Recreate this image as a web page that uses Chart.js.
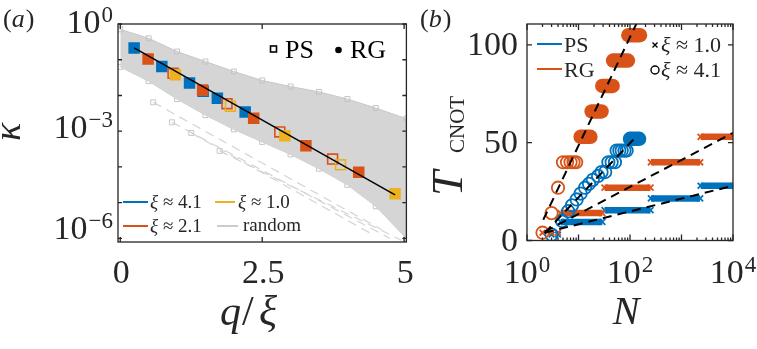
<!DOCTYPE html>
<html lang="en">
<head>
<meta charset="UTF-8">
<title>kappa vs q/xi and T_CNOT vs N</title>
<script src="https://cdn.jsdelivr.net/npm/chart.js@4.4.1/dist/chart.umd.min.js"></script>
<style>
  body { margin: 0; background: #fff; }
  #wrap { position: relative; width: 757px; height: 349px; }
  canvas { position: absolute; top: 0; }
</style>
</head>
<body>
<div id="wrap">
  <canvas id="chartA" width="415" height="349" style="left:0"></canvas>
  <canvas id="chartB" width="342" height="349" style="left:415px"></canvas>
</div>
<script>
// ---- panel (a): values are log10(kappa) ----
const bandQ    = [0, 0.5, 1, 1.5, 2, 2.5, 3, 3.5, 4, 4.5, 5.04];
const bandTopK = [-0.15, -0.4, -0.77, -1.05, -1.33, -1.58, -1.75, -1.9, -2.1, -2.35, -2.65];
const bandLowK = [-1.2, -1.6, -2.1, -2.55, -2.95, -3.3, -3.65, -4.05, -4.5, -5.1, -6.0];

const dashStartQ = [0.58, 0.91, 1.25, 1.75];
const dashStartK = [-2.19, -2.75, -3.05, -3.55];
const dashEndQ   = [4.6, 4.75, 4.4, 4.95];
const dashEndK   = [-5.75, -6.0, -5.85, -6.05];

const fitQ = [0.244, 4.84];
const fitK = [-0.67, -4.78];

const blueRgQ = [0.244, 0.732, 1.22, 1.71, 2.20];
const blueRgK = [-0.675, -1.19, -1.65, -2.08, -2.46];
const bluePsQ = [1.46];
const bluePsK = [-1.88];
const orangeRgQ = [0.49, 1.45, 2.35, 3.27, 4.20];
const orangeRgK = [-0.98, -1.85, -2.64, -3.41, -4.15];
const orangePsQ = [0.93, 1.88, 2.81, 3.74];
const orangePsK = [-1.38, -2.23, -3.02, -3.78];
const yellowRgQ = [0.97, 2.90, 4.84];
const yellowRgK = [-1.42, -3.13, -4.75];
const yellowPsQ = [1.94, 3.88];
const yellowPsK = [-2.30, -3.94];

// ---- panel (b) ----
const orangeCircN = [2, 3, 4, 5, 6, 7, 8, 9];
const orangeCircT = [4, 14, 27, 40, 40, 40, 40, 40];
const orangePillStart = [11, 18, 29, 47, 93];
const orangePillEnd   = [17, 28, 46, 91, 156];
const orangePillT     = [53, 66, 79, 92, 105];

const blueCircN = [3, 4.8, 6.3, 7.5, 9.2, 11, 13.4, 16, 19, 24, 28, 33, 38, 44, 51, 55, 62, 69, 78, 86];
const blueCircT = [3, 10, 15, 18, 21, 24, 27, 29, 31, 33, 35, 35, 40, 40, 40, 46, 46, 46, 46, 46];
const bluePillStart = [100];
const bluePillEnd   = [150];
const bluePillT     = [52];

const barStart  = [4.5, 32, 255, 2350];
const barEnd    = [29, 250, 2300, 10000];
const blueBarT  = [9.5, 15.5, 21.5, 28];
const orangeBarT = [14, 27, 40, 53];

const orangeXN = [2, 3, 4];
const orangeXT = [4, 4, 4];
const blueXN = [3, 4];
const blueXT = [3, 3];

const fitLinesN = [[2.07, 134], [2.2, 134], [2.2, 10000], [2.2, 10000]];
const fitLinesT = [[10.6, 111], [3.8, 53.3], [4.5, 55], [4, 28]];

const C_BLUE = '#0072BD', C_ORANGE = '#D95319', C_YELLOW = '#EDB120', C_GRAY = '#cccccc';
const SERIF = '"Liberation Serif", "DejaVu Serif", serif';
const AXIS = '#262626';
const TICK_PX = 34, SUP_PX = 23;

function font(size, italic) {
  return (italic ? 'italic ' : '') + size + 'px ' + SERIF;
}
function pts(xs, ys) {
  return xs.map((x, i) => ({ x: x, y: ys[i] }));
}
function logPts(xs, ks) {
  return xs.map((x, i) => ({ x: x, y: Math.pow(10, ks[i]) }));
}

// draws base^exp, y is baseline of base
function drawPow(ctx, base, exp, x, y, align) {
  ctx.font = font(TICK_PX);
  const wb = ctx.measureText(base).width;
  ctx.font = font(SUP_PX);
  const we = ctx.measureText(exp).width;
  let left = x;
  if (align === 'right') left = x - wb - we - 1;
  if (align === 'center') left = x - (wb + we + 1) / 2;
  ctx.textAlign = 'left';
  ctx.textBaseline = 'alphabetic';
  ctx.font = font(TICK_PX);
  ctx.fillText(base, left, y);
  ctx.font = font(SUP_PX);
  ctx.fillText(exp, left + wb + 1, y - 11);
}

function drawXi(ctx, rest, x, y, size) {
  ctx.textAlign = 'left';
  ctx.textBaseline = 'alphabetic';
  ctx.font = font(size, true);
  ctx.fillText('ξ', x, y);
  const w = ctx.measureText('ξ').width;
  ctx.font = font(size);
  ctx.fillText(rest, x + w, y);
}

function hLine(ctx, x0, x1, y, color, width) {
  ctx.strokeStyle = color;
  ctx.lineWidth = width;
  ctx.beginPath();
  ctx.moveTo(x0, y);
  ctx.lineTo(x1, y);
  ctx.stroke();
}

function drawBoxTicks(ctx, area, xTicks, yTicks) {
  ctx.strokeStyle = AXIS;
  ctx.lineWidth = 1.3;
  ctx.beginPath();
  xTicks.forEach(t => {
    ctx.moveTo(t[0], area.bottom); ctx.lineTo(t[0], area.bottom - t[1]);
    ctx.moveTo(t[0], area.top); ctx.lineTo(t[0], area.top + t[1]);
  });
  yTicks.forEach(t => {
    ctx.moveTo(area.left, t[0]); ctx.lineTo(area.left + t[1], t[0]);
    ctx.moveTo(area.right, t[0]); ctx.lineTo(area.right - t[1], t[0]);
  });
  ctx.stroke();
  ctx.strokeRect(area.left, area.top, area.right - area.left, area.bottom - area.top);
}

// ---------------- panel (a) ----------------
function squares(q, k, color, filled, order) {
  return {
    data: logPts(q, k), pointStyle: 'rect', pointRadius: 7, pointHoverRadius: 7,
    borderColor: color, borderWidth: 1.6,
    backgroundColor: filled ? color : 'rgba(0,0,0,0)', order: order
  };
}

const datasetsA = [];
datasetsA.push({
  data: logPts(fitQ, fitK), showLine: true, borderColor: '#000', borderWidth: 1.5,
  pointRadius: 0, order: 1
});
datasetsA.push(squares(yellowRgQ, yellowRgK, C_YELLOW, true, 2));
datasetsA.push(squares(yellowPsQ, yellowPsK, C_YELLOW, false, 3));
datasetsA.push(squares(orangeRgQ, orangeRgK, C_ORANGE, true, 4));
datasetsA.push(squares(orangePsQ, orangePsK, C_ORANGE, false, 5));
datasetsA.push(squares(blueRgQ, blueRgK, C_BLUE, true, 6));
datasetsA.push(squares(bluePsQ, bluePsK, C_BLUE, false, 7));
dashStartQ.forEach((q, i) => {
  datasetsA.push({
    data: logPts([q, dashEndQ[i]], [dashStartK[i], dashEndK[i]]),
    showLine: true, borderColor: '#d4d4d4', borderWidth: 1.2, borderDash: [9, 6],
    pointStyle: 'rect', pointRadius: [3.5, 0], pointBorderColor: '#c8c8c8',
    pointBackgroundColor: 'rgba(0,0,0,0)', pointBorderWidth: 1, order: 8
  });
});
datasetsA.push({
  data: logPts(bandQ, bandTopK), showLine: true, fill: '+1',
  borderColor: '#c8c8c8', borderWidth: 1, backgroundColor: '#d5d5d5',
  pointStyle: 'rect', pointRadius: 3.5, pointBorderColor: '#c4c4c4',
  pointBackgroundColor: 'rgba(0,0,0,0)', pointBorderWidth: 1, order: 9
});
datasetsA.push({
  data: logPts(bandQ, bandLowK), showLine: true,
  borderColor: '#c8c8c8', borderWidth: 1,
  pointStyle: 'rect', pointRadius: 3.5, pointBorderColor: '#c4c4c4',
  pointBackgroundColor: 'rgba(0,0,0,0)', pointBorderWidth: 1, order: 10
});

const decorA = {
  id: 'decorA',
  afterDraw(chart) {
    const ctx = chart.ctx, area = chart.chartArea;
    const xs = chart.scales.x, ys = chart.scales.y;
    ctx.save();
    const xT = [0, 2.5, 5].map(v => [xs.getPixelForValue(v), 5]);
    const yT = [0, -1, -2, -3, -4, -5, -6].map(e => [ys.getPixelForValue(Math.pow(10, e)), 4]);
    drawBoxTicks(ctx, area, xT, yT);

    ctx.fillStyle = '#262626';
    // [exponent, label, baseline offset from tick]
    [[0, '0', 9], [-3, '−3', 6.5], [-6, '−6', 1]].forEach(p => {
      drawPow(ctx, '10', p[1], 113, ys.getPixelForValue(Math.pow(10, p[0])) + p[2], 'right');
    });
    ctx.font = font(TICK_PX);
    ctx.textAlign = 'center';
    ctx.textBaseline = 'alphabetic';
    [[0, '0'], [2.5, '2.5'], [5, '5']].forEach(p => {
      ctx.fillText(p[1], xs.getPixelForValue(p[0]) + 1, 283);
    });

    // axis titles: q / xi
    ctx.textAlign = 'left';
    ctx.font = font(42, true);
    ctx.fillText('q', 220, 325);
    ctx.font = font(42);
    ctx.fillText('/', 242, 325);
    ctx.font = font(42, true);
    ctx.fillText('ξ', 259, 325);
    ctx.save();
    ctx.translate(20, 132);
    ctx.rotate(-Math.PI / 2);
    ctx.font = font(38, true);
    ctx.textAlign = 'center';
    ctx.fillText('κ', 0, 0);
    ctx.restore();

    // panel label
    ctx.textAlign = 'left';
    ctx.font = font(26);
    ctx.fillText('(', 3, 27);
    let w = ctx.measureText('(').width;
    ctx.font = font(26, true);
    ctx.fillText('a', 3 + w, 27);
    w += ctx.measureText('a').width;
    ctx.font = font(26);
    ctx.fillText(')', 4 + w, 27);

    // top legend
    ctx.strokeStyle = '#000';
    ctx.lineWidth = 1.6;
    ctx.strokeRect(270.5, 46, 6, 6);
    ctx.fillStyle = '#000';
    ctx.font = font(26);
    ctx.fillText('PS', 285, 58);
    ctx.beginPath();
    ctx.arc(338.5, 50, 3.3, 0, Math.PI * 2);
    ctx.fill();
    ctx.fillText('RG', 350, 58);

    // bottom legend
    ctx.fillStyle = '#262626';
    hLine(ctx, 123, 148, 202, C_BLUE, 2);
    drawXi(ctx, ' ≈ 4.1', 150, 208, 19);
    hLine(ctx, 215, 235, 202, C_YELLOW, 2);
    drawXi(ctx, ' ≈ 1.0', 238, 208, 19);
    hLine(ctx, 123, 148, 226, C_ORANGE, 2);
    drawXi(ctx, ' ≈ 2.1', 150, 232, 19);
    hLine(ctx, 217, 238, 226, C_GRAY, 2);
    ctx.fillStyle = '#262626';
    ctx.font = font(19);
    ctx.fillText('random', 243, 231);
    ctx.restore();
  }
};

new Chart(document.getElementById('chartA'), {
  type: 'scatter',
  data: { datasets: datasetsA },
  options: {
    responsive: false, animation: false, devicePixelRatio: 1,
    layout: { padding: { left: 118, right: 7, top: 24, bottom: 107 } },
    plugins: { legend: { display: false }, tooltip: { enabled: false } },
    scales: {
      x: { type: 'linear', min: -0.04, max: 5.04, display: false },
      y: { type: 'logarithmic', min: Math.pow(10, -6.1), max: 1, display: false }
    }
  },
  plugins: [decorA]
});

// ---------------- panel (b) ----------------
const datasetsB = [];
fitLinesN.forEach((n, i) => {
  datasetsB.push({
    data: pts(n, fitLinesT[i]), showLine: true, borderColor: '#000', borderWidth: 2,
    borderDash: [9, 6], pointRadius: 0, order: 1
  });
});
datasetsB.push({
  data: pts(orangeCircN, orangeCircT), pointStyle: 'circle', pointRadius: 6.2,
  borderColor: C_ORANGE, borderWidth: 1.8, backgroundColor: 'rgba(0,0,0,0)', order: 3
});
datasetsB.push({
  data: pts(blueCircN, blueCircT), pointStyle: 'circle', pointRadius: 6.2,
  borderColor: C_BLUE, borderWidth: 1.8, backgroundColor: 'rgba(0,0,0,0)', order: 3
});
function pills(start, end, t, color) {
  start.forEach((s, i) => {
    datasetsB.push({
      data: pts([s, end[i]], [t[i], t[i]]), showLine: true, borderColor: color,
      borderWidth: 14.5, borderCapStyle: 'round', pointRadius: 0, order: 4
    });
  });
}
pills(orangePillStart, orangePillEnd, orangePillT, C_ORANGE);
pills(bluePillStart, bluePillEnd, bluePillT, C_BLUE);
function bars(t, color) {
  barStart.forEach((s, i) => {
    datasetsB.push({
      data: pts([s, barEnd[i]], [t[i], t[i]]), showLine: true, borderColor: color,
      borderWidth: 6.5, pointStyle: 'crossRot', pointRadius: 4.2,
      pointBorderColor: color, pointBorderWidth: 1.8, order: 5
    });
  });
}
bars(orangeBarT, C_ORANGE);
bars(blueBarT, C_BLUE);
datasetsB.push({
  data: pts(orangeXN, orangeXT), pointStyle: 'crossRot', pointRadius: 4,
  borderColor: C_ORANGE, borderWidth: 1.8, order: 5
});
datasetsB.push({
  data: pts(blueXN, blueXT), pointStyle: 'crossRot', pointRadius: 4,
  borderColor: C_BLUE, borderWidth: 1.8, order: 6
});

const decorB = {
  id: 'decorB',
  afterDraw(chart) {
    const ctx = chart.ctx, area = chart.chartArea;
    const xs = chart.scales.x, ys = chart.scales.y;
    ctx.save();
    const xT = [];
    [1, 10, 100, 1000].forEach(d => {
      xT.push([xs.getPixelForValue(d), 6]);
      for (let m = 2; m <= 9; m++) xT.push([xs.getPixelForValue(d * m), 3]);
    });
    xT.push([xs.getPixelForValue(10000), 6]);
    const yT = [0, 50, 100].map(v => [ys.getPixelForValue(v), 5]);
    drawBoxTicks(ctx, area, xT, yT);

    ctx.fillStyle = '#262626';
    [[1, '0'], [100, '2'], [10000, '4']].forEach(p => {
      drawPow(ctx, '10', p[1], xs.getPixelForValue(p[0]), 283, 'center');
    });
    ctx.font = font(TICK_PX);
    ctx.textAlign = 'right';
    ctx.textBaseline = 'alphabetic';
    [0, 50, 100].forEach(v => ctx.fillText(String(v), 103, ys.getPixelForValue(v) + 10));

    // axis titles
    ctx.textAlign = 'center';
    ctx.font = font(40, true);
    ctx.fillText('N', 211, 324);
    ctx.save();
    ctx.translate(47, 196);
    ctx.rotate(-Math.PI / 2);
    ctx.textAlign = 'left';
    ctx.font = font(45, true);
    ctx.fillText('T', 0, 0);
    ctx.font = font(21);
    ctx.fillText('CNOT', 43, 2);
    ctx.restore();

    // panel label
    ctx.textAlign = 'left';
    ctx.font = font(26);
    ctx.fillText('(', 5, 27);
    let w = ctx.measureText('(').width;
    ctx.font = font(26, true);
    ctx.fillText('b', 5 + w, 27);
    w += ctx.measureText('b').width;
    ctx.font = font(26);
    ctx.fillText(')', 6 + w, 27);

    // legend
    hLine(ctx, 122, 147, 44, C_BLUE, 2);
    hLine(ctx, 122, 147, 69, C_ORANGE, 2);
    ctx.fillStyle = '#262626';
    ctx.font = font(22);
    ctx.fillText('PS', 149, 52);
    ctx.fillText('RG', 149, 77);
    ctx.strokeStyle = '#000';
    ctx.lineWidth = 1.4;
    ctx.beginPath();
    ctx.moveTo(237.5, 42.5); ctx.lineTo(242.5, 47.5);
    ctx.moveTo(242.5, 42.5); ctx.lineTo(237.5, 47.5);
    ctx.stroke();
    ctx.beginPath();
    ctx.arc(240, 70, 4, 0, Math.PI * 2);
    ctx.stroke();
    drawXi(ctx, ' ≈ 1.0', 246, 52, 22);
    drawXi(ctx, ' ≈ 4.1', 246, 77, 22);
    ctx.restore();
  }
};

new Chart(document.getElementById('chartB'), {
  type: 'scatter',
  data: { datasets: datasetsB },
  options: {
    responsive: false, animation: false, devicePixelRatio: 1,
    layout: { padding: { left: 112, right: 24, top: 24, bottom: 108.5 } },
    plugins: { legend: { display: false }, tooltip: { enabled: false } },
    scales: {
      x: { type: 'logarithmic', min: 1, max: 10000, display: false },
      y: { type: 'linear', min: 0, max: 110.7, display: false }
    }
  },
  plugins: [decorB]
});
</script>
</body>
</html>
